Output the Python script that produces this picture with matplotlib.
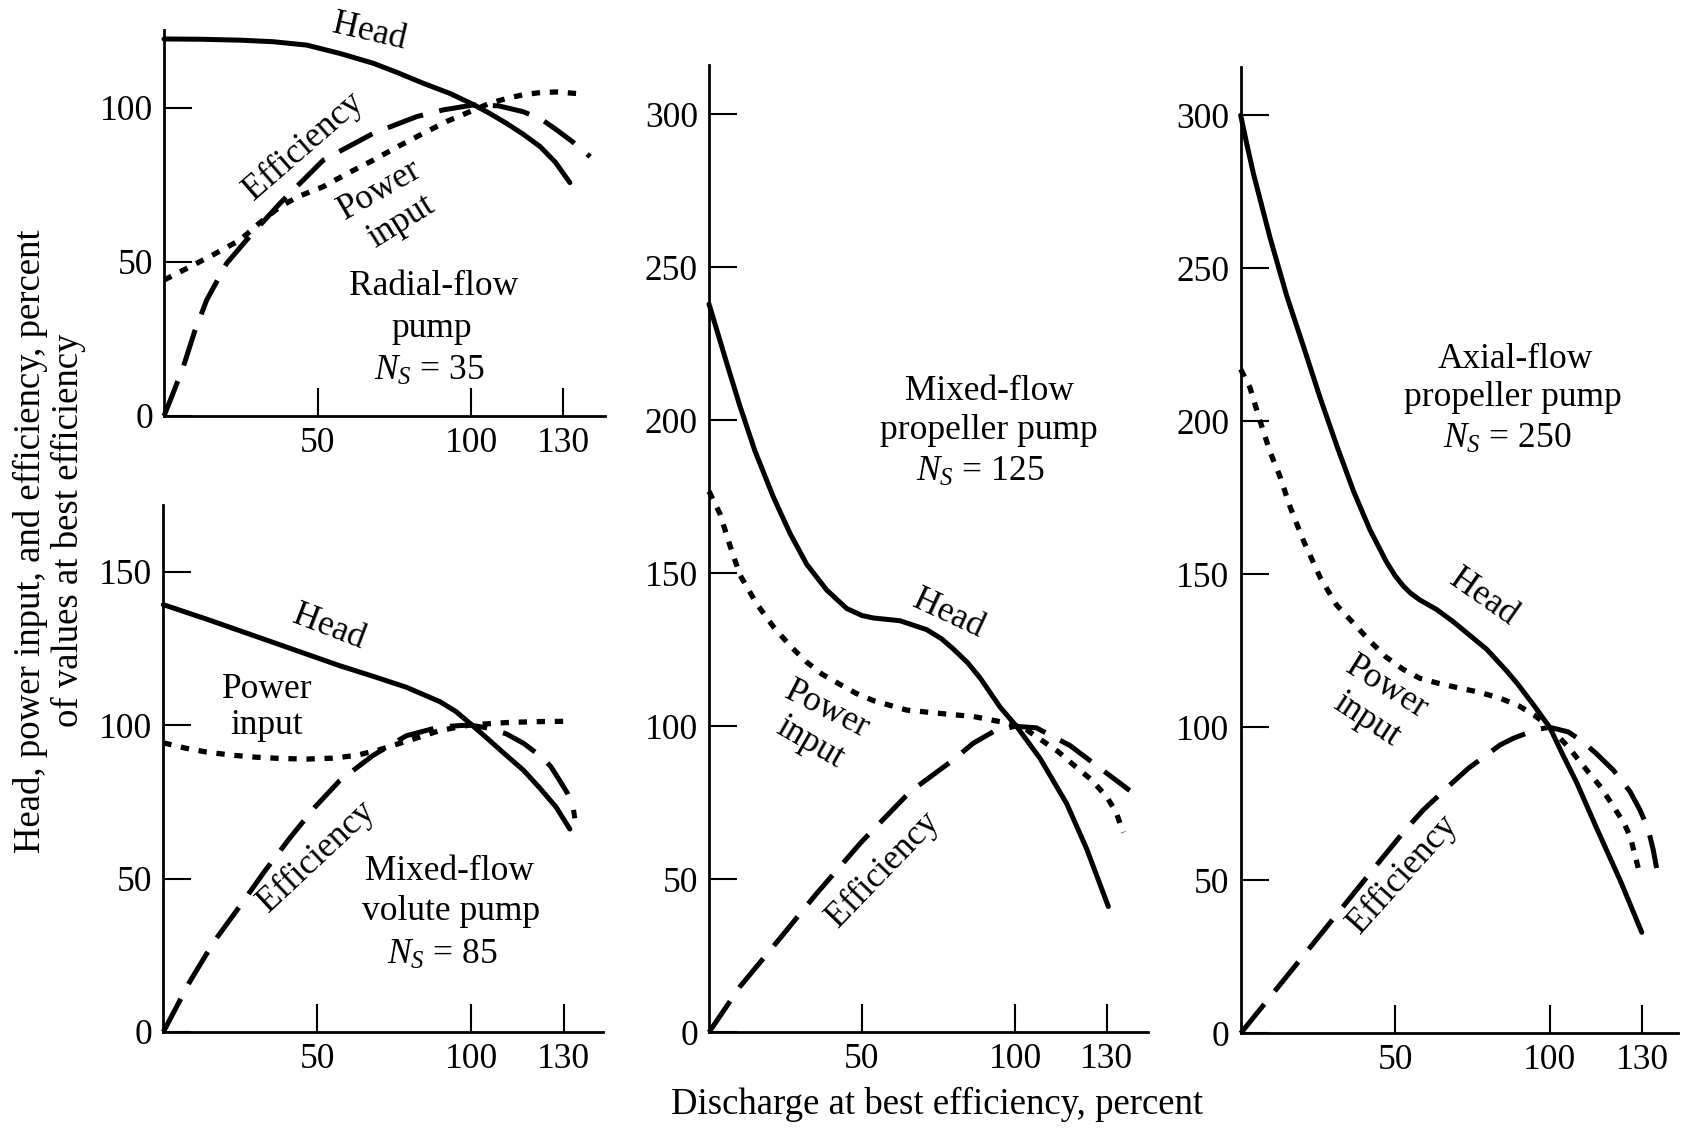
import matplotlib
matplotlib.use("Agg")
import matplotlib.pyplot as plt

plt.rcParams['font.family'] = ['Liberation Serif', 'DejaVu Serif']
plt.rcParams['mathtext.fontset'] = 'custom'
plt.rcParams['mathtext.rm'] = 'Liberation Serif'
plt.rcParams['mathtext.it'] = 'Liberation Serif:italic'
plt.rcParams['lines.scale_dashes'] = False

# ---- data (percent of best-efficiency values)
# Radial-flow pump, Ns = 35
x_head_radial = [0, 12, 25, 35.6, 46.5, 57.3, 68.2, 76, 84.5, 93.2, 100.8, 106, 111.6, 117, 122.5, 127.5, 132.2]
head_radial = [122.3, 122.2, 121.9, 121.4, 120.3, 117.6, 114.4, 111.4, 107.9, 104.6, 101.0, 98.2, 94.9, 91.4, 87.4, 82.3, 75.7]
x_eff_radial = [0, 3, 6.3, 10, 13.9, 20.4, 26.9, 37.8, 51.9, 68.2, 82.3, 91, 100.8, 109, 117, 123, 127.9, 133, 138.8]
eff_radial = [0, 7.5, 16, 27.5, 37.6, 49.5, 57.1, 69, 83, 91.7, 97.1, 99.3, 100.9, 100.6, 98.7, 96.2, 92.8, 89, 84.1]
x_pow_radial = [0, 8.5, 16, 24.8, 31, 37.8, 44, 51.9, 60, 68.2, 76, 84.5, 92, 100.8, 106, 111.6, 117, 122.5, 128, 134.4]
pow_radial = [44.1, 48.4, 52.3, 57.1, 62.5, 67.9, 71.3, 74.4, 78.8, 83, 87.3, 91.7, 95.5, 99.2, 101.4, 103, 104.2, 104.9, 105.1, 104.6]

# Mixed-flow volute pump, Ns = 85
x_head_volute = [0, 14, 35.7, 57.3, 68, 78.9, 89.8, 95, 99.5, 105, 111.4, 117, 122.2, 127.5, 132]
head_volute = [139.2, 134.5, 126.9, 119.3, 115.9, 112.3, 107.6, 104.4, 100.6, 95.8, 90.1, 85.2, 79.5, 73.3, 66.1]
x_eff_volute = [0, 8.6, 16.5, 24.8, 33, 41.1, 49, 57.3, 68.1, 78.9, 89.8, 99.5, 105.5, 111.4, 117,
                122.2, 125.8, 128.7, 131.2, 133, 133.6]
eff_volute = [0, 16.4, 29.5, 40.9, 52.5, 63.2, 73, 81.9, 90.1, 96.5, 99.4, 100, 99, 97.1, 94,
              90.1, 86.5, 81.9, 77.8, 73.7, 69.6]
x_pow_volute = [0, 7, 14, 22, 30.3, 38, 46.5, 55, 62.7, 70, 78.9, 89.8, 99.5, 111.4, 121, 131.4]
pow_volute = [94.2, 92.5, 91.2, 90.2, 89.5, 89.1, 88.9, 89.2, 90.1, 91.9, 94.7, 98.2, 100, 100.8, 101.1, 101.2]

# Mixed-flow propeller pump, Ns = 125
x_head_mixprop = [0, 3, 6, 10, 15, 21, 26.5, 31.9, 38.5, 45, 50, 53.7, 62.4, 71.1, 76, 79.8, 84.5, 88.6,
                  95.1, 100.5, 108.2, 116.9, 123.4, 130.5]
head_mixprop = [238, 228, 218, 205, 190, 175, 163, 153, 144.5, 138.5, 136.2, 135.4, 134.5, 131.6,
                128.6, 125.3, 120.8, 115.8, 106.3, 100, 89.5, 74.7, 60, 41.1]
x_eff_mixprop = [0, 10.1, 23.2, 35.2, 49.9, 65.7, 79.8, 86.4, 93, 100, 107, 118, 129, 137.5]
eff_mixprop = [0, 14.9, 30.7, 45.4, 62.3, 78.6, 89, 94.5, 98.3, 100, 99.5, 93.7, 85.4, 79]
x_pow_mixprop = [0, 3.6, 6.9, 10.1, 15.6, 21, 26.5, 31.9, 37, 42.8, 48, 53.7, 64.6, 75.5, 86.4, 97.3,
                 102.7, 108.2, 114, 119.1, 125, 130, 133, 135.4]
pow_mixprop = [176.8, 169.4, 158.9, 149.5, 140, 132.6, 126.3, 121, 117, 113.7, 110.8, 108.4, 105.3, 104.2,
               103.2, 101.1, 99.6, 95.8, 91.8, 87.4, 82.5, 76.9, 72, 65.3]

# Axial-flow propeller pump, Ns = 250
x_head_axial = [0, 2, 4.1, 9.5, 14.9, 20.3, 25.7, 31.1, 36.5, 41.8, 47.2, 50, 52.6, 55, 58, 63.4, 68.8,
                74.2, 79.6, 86, 89.6, 95, 100, 104, 108.7, 115.2, 122.8, 129.8]
head_axial = [300, 290.5, 281, 260, 241, 224.5, 207.7, 192, 177.2, 164.6, 154, 149.5, 146.2, 143.8,
              141.6, 138.5, 134.5, 130, 125.5, 118.5, 114.2, 107, 100, 91.5, 82, 67, 50, 33]
x_eff_axial = [0, 10, 20, 30, 40, 45.2, 53.3, 59.1, 68.3, 73.7, 83.9, 88.2, 95.8, 100, 106,
               110, 115, 120.6, 126, 129.2, 131.8, 133.5, 134.6]
eff_axial = [0, 12.5, 25, 37.5, 50, 56.5, 66.5, 73, 81.7, 86.6, 94.2, 96.4, 99.3, 100, 98.5,
             95.8, 91.5, 86, 79, 73, 67, 60, 54]
x_pow_axial = [0, 3, 6.3, 9.5, 12.7, 16, 20.3, 25.7, 31, 36.5, 42, 47, 52.5, 58, 63.5, 70, 77,
               84, 90, 95, 100, 106, 112, 116.5, 120.7, 124, 126.1, 128.8]
pow_axial = [217, 211, 200, 190, 182, 172, 161, 149, 140, 134, 128, 123, 119, 116, 114.5, 113,
             111.5, 109.5, 107, 104, 100, 93.6, 86, 80.5, 74, 68.8, 64.2, 53.4]

x_ticks = [50, 100, 130]

W, H = 1687, 1130
fig = plt.figure(figsize=(W / 100, H / 100), dpi=100)


def make_axes(ox, oy, sx, sy, xmax, ymax, yticks):
    # ox, oy: pixel position of the data origin; sx, sy: pixels per percent
    ax = fig.add_axes([ox / W, (H - oy) / H, xmax * sx / W, ymax * sy / H])
    ax.set_xlim(0, xmax)
    ax.set_ylim(0, ymax)
    for side in ('top', 'right'):
        ax.spines[side].set_visible(False)
    for side in ('left', 'bottom'):
        ax.spines[side].set_linewidth(2.0)
    ax.set_xticks(x_ticks)
    ax.set_yticks(yticks)
    ax.tick_params(direction='in', length=20, width=1.5, labelsize=25.5, pad=8)
    ax.patch.set_alpha(0)
    return ax


def draw(ax, xh, h, xe, e, xp, p):
    ax.plot(xh, h, color='black', lw=3.6, solid_capstyle='round', solid_joinstyle='round', clip_on=False)
    ax.plot(xe, e, color='black', lw=3.6, dashes=(27, 12), clip_on=False)
    ax.plot(xp, p, color='black', lw=3.8, dashes=(6, 7), clip_on=False)


def label(ax, x, y, s, rot=0):
    ax.text(x, y, s, fontsize=25.5, rotation=rot, ha='center', va='center',
            rotation_mode='anchor', clip_on=False)


ax1 = make_axes(164, 416, 3.07, 3.083, 143.6, 125.2, [0, 50, 100])
draw(ax1, x_head_radial, head_radial, x_eff_radial, eff_radial, x_pow_radial, pow_radial)
label(ax1, 66.9, 124.6, 'Head', -13)
label(ax1, 45.4, 87.4, 'Efficiency', 41)
label(ax1, 70.4, 73.3, 'Power', 30)
label(ax1, 77.4, 63.0, 'input', 32)
label(ax1, 87.7, 42.0, 'Radial-flow')
label(ax1, 87.2, 28.4, 'pump')
label(ax1, 86.6, 14.4, '$N_S$ = 35')

ax2 = make_axes(163.3, 1032, 3.08, 3.07, 142.9, 171.8, [0, 50, 100, 150])
draw(ax2, x_head_volute, head_volute, x_eff_volute, eff_volute, x_pow_volute, pow_volute)
label(ax2, 53.9, 131.7, 'Head', -21)
label(ax2, 33.9, 111.7, 'Power')
label(ax2, 33.4, 99.9, 'input')
label(ax2, 49.6, 57.1, 'Efficiency', 43)
label(ax2, 92.8, 52.2, 'Mixed-flow')
label(ax2, 93.3, 39.2, 'volute pump')
label(ax2, 90.6, 25.1, '$N_S$ = 85')

ax3 = make_axes(709, 1032.3, 3.06, 3.06, 143.5, 316, [0, 50, 100, 150, 200, 250, 300])
draw(ax3, x_head_mixprop, head_mixprop, x_eff_mixprop, eff_mixprop, x_pow_mixprop, pow_mixprop)
label(ax3, 78.2, 136.8, 'Head', -25)
label(ax3, 38.5, 105.3, 'Power', -27)
label(ax3, 33.0, 94.7, 'input', -30)
label(ax3, 57.0, 53.0, 'Efficiency', 46)
label(ax3, 91.8, 209.4, 'Mixed-flow')
label(ax3, 91.3, 196.8, 'propeller pump')
label(ax3, 88.6, 183.1, '$N_S$ = 125')

ax4 = make_axes(1240.7, 1033.3, 3.09, 3.06, 141.6, 315.9, [0, 50, 100, 150, 200, 250, 300])
draw(ax4, x_head_axial, head_axial, x_eff_axial, eff_axial, x_pow_axial, pow_axial)
label(ax4, 78.5, 142.5, 'Head', -35)
label(ax4, 47.2, 113.0, 'Power', -32)
label(ax4, 40.8, 102.5, 'input', -33)
label(ax4, 52.6, 52.0, 'Efficiency', 48)
label(ax4, 88.8, 220.3, 'Axial-flow')
label(ax4, 88.2, 207.7, 'propeller pump')
label(ax4, 86.1, 194.0, '$N_S$ = 250')

fig.text(937 / W, 1 - 1104 / H, 'Discharge at best efficiency, percent',
         fontsize=26.5, ha='center', va='center')
fig.text(30 / W, 1 - 541 / H, 'Head, power input, and efficiency, percent',
         fontsize=26.5, ha='center', va='center', rotation=90)
fig.text(68 / W, 1 - 530 / H, 'of values at best efficiency',
         fontsize=26.5, ha='center', va='center', rotation=90)

fig.savefig('out.png', dpi=100)
